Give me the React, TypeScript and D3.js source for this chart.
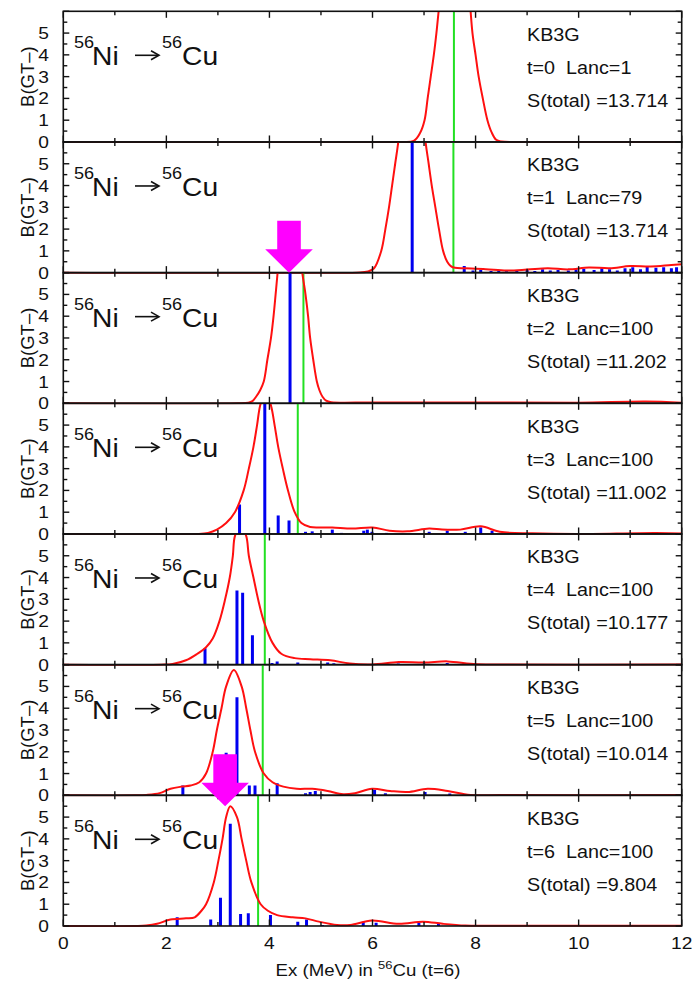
import React from "react";
import * as d3 from "d3";

// ---------- data ----------
const X_TICK_LABELS = [0, 2, 4, 6, 8, 10, 12];
const Y_TICK_LABELS = [0, 1, 2, 3, 4, 5];
const MODEL = "KB3G";
const T_STEPS = [0, 1, 2, 3, 4, 5, 6];
const LANC = [1, 79, 100, 100, 100, 100, 100];
const S_TOTAL = ["13.714", "13.714", "11.202", "11.002", "10.177", "10.014", "9.804"];
const CENTROIDS = [7.58, 7.57, 4.66, 4.55, 3.91, 3.87, 3.78];

const curve0: [number, number][] = [[0,0],[6.5,0],[6.8,0.05],[6.92,0.4],[7.01,1],[7.07,2],[7.13,3],[7.19,4],[7.24,5],[7.3,6.4],[7.45,10],[7.6,11.2],[7.75,10],[7.89,6.4],[7.94,5],[8.0,4],[8.06,3],[8.14,2],[8.23,1],[8.31,0.45],[8.4,0.1],[8.5,0.02],[8.8,0],[12,0]];
const curve1: [number, number][] = [[0,0],[5.7,0],[5.91,0.05],[6.03,0.2],[6.17,1],[6.25,2],[6.32,3],[6.38,4],[6.44,5],[6.51,6.2],[6.62,9.5],[6.77,11],[6.92,9.5],[7.02,6.2],[7.09,5],[7.15,4],[7.22,3],[7.29,2],[7.37,1],[7.45,0.5],[7.52,0.3],[7.6,0.22],[7.8,0.2],[8.2,0.16],[8.6,0.1],[9.0,0.14],[9.4,0.2],[9.8,0.15],[10.2,0.24],[10.6,0.2],[11.0,0.3],[11.4,0.28],[11.8,0.35],[12,0.38]];
const curve2: [number, number][] = [[0,0],[3.4,0],[3.59,0.03],[3.67,0.1],[3.74,0.3],[3.82,0.6],[3.89,1],[3.96,2],[4.03,3],[4.08,4],[4.12,5],[4.17,6.3],[4.28,9],[4.4,10],[4.52,9],[4.62,6.3],[4.7,5],[4.75,4],[4.79,3],[4.85,2],[4.92,1],[4.97,0.6],[5.03,0.3],[5.1,0.12],[5.2,0.05],[6,0.04],[8,0.04],[10,0.03],[11.3,0.08],[12,0.03]];
const curve3: [number, number][] = [[0,0],[2.6,0],[2.81,0.05],[2.98,0.2],[3.16,0.5],[3.33,1],[3.5,2],[3.6,3],[3.69,4],[3.76,5],[3.82,5.9],[3.92,6.6],[4.03,5.9],[4.1,5],[4.17,4],[4.26,3],[4.36,2],[4.49,1],[4.62,0.5],[4.79,0.32],[5.0,0.3],[5.22,0.3],[5.6,0.25],[6.0,0.3],[6.33,0.15],[6.68,0.12],[7.1,0.25],[7.35,0.2],[7.7,0.2],[8.1,0.35],[8.47,0.1],[9.1,0.03],[9.95,0.0],[11.5,0.05],[12,0.02]];
const curve4: [number, number][] = [[0,0],[1.9,0],[2.12,0.03],[2.38,0.2],[2.6,0.5],[2.77,0.8],[2.9,1.2],[3.03,2],[3.14,3],[3.23,4],[3.29,5],[3.33,5.9],[3.44,6.4],[3.55,5.9],[3.6,5],[3.69,4],[3.78,3],[3.89,2],[4.06,1],[4.23,0.5],[4.49,0.3],[4.79,0.25],[5.18,0.2],[5.56,0.05],[6.0,0.01],[6.51,0.12],[7.0,0.1],[7.46,0.15],[7.9,0.04],[8.2,0.01],[12,0.01]];
const curve5: [number, number][] = [[0,0],[1.4,0],[1.61,0.02],[1.87,0.1],[2.08,0.3],[2.3,0.4],[2.47,0.45],[2.64,0.6],[2.77,1],[2.9,2],[2.98,3],[3.07,4],[3.16,5],[3.31,5.75],[3.46,5],[3.55,4],[3.63,3],[3.72,2],[3.89,1],[4.06,0.6],[4.27,0.4],[4.53,0.3],[4.83,0.3],[5.13,0.2],[5.43,0.05],[5.66,0.1],[5.99,0.3],[6.34,0.2],[6.68,0.15],[7.07,0.3],[7.46,0.2],[7.9,0.02],[8.5,0.01],[12,0.01]];
const curve6: [number, number][] = [[0,0],[1.4,0],[1.61,0.02],[1.82,0.1],[2.08,0.3],[2.38,0.35],[2.55,0.4],[2.68,0.7],[2.77,1],[2.92,2],[3.01,3],[3.09,4],[3.16,5],[3.24,5.5],[3.37,5],[3.46,4],[3.55,3],[3.65,2],[3.83,1],[3.97,0.7],[4.15,0.5],[4.45,0.4],[4.7,0.35],[4.96,0.2],[5.31,0.05],[5.57,0.05],[5.99,0.25],[6.51,0.1],[6.98,0.2],[7.36,0.1],[7.8,0.02],[8.3,0.01],[12,0.01]];
const CURVES = [curve0, curve1, curve2, curve3, curve4, curve5, curve6];

const sticks0: [number, number][] = [];
const sticks1: [number, number][] = [[6.77,12.5],[7.78,0.3],[7.95,0.1],[8.1,0.12],[8.3,0.08],[8.45,0.1],[8.6,0.06],[8.8,0.1],[9.0,0.12],[9.15,0.08],[9.3,0.15],[9.45,0.1],[9.6,0.12],[9.8,0.1],[9.95,0.15],[10.1,0.18],[10.3,0.12],[10.45,0.2],[10.6,0.15],[10.75,0.1],[10.9,0.2],[11.05,0.25],[11.2,0.15],[11.33,0.3],[11.5,0.22],[11.65,0.25],[11.8,0.2],[11.9,0.25]];
const sticks2: [number, number][] = [[4.4,10]];
const sticks3: [number, number][] = [[3.42,1.35],[3.91,7.5],[4.17,0.85],[4.38,0.62],[4.7,0.1],[4.83,0.12],[5.22,0.2],[5.4,0.05],[5.83,0.15],[5.9,0.2],[5.99,0.1],[6.27,0.05],[7.1,0.1],[7.45,0.15],[7.8,0.1],[8.1,0.3],[8.32,0.15],[11.4,0.05]];
const sticks4: [number, number][] = [[2.75,0.75],[3.37,3.4],[3.48,3.3],[3.67,1.35],[4.05,0.08],[4.15,0.15],[4.55,0.1],[5.13,0.1],[5.25,0.06],[6.5,0.05],[7.0,0.05],[7.45,0.08]];
const sticks5: [number, number][] = [[2.32,0.45],[3.16,1.95],[3.37,4.5],[3.61,0.45],[3.72,0.45],[4.15,0.55],[4.7,0.1],[4.79,0.15],[4.89,0.2],[5.02,0.05],[6.04,0.25],[6.25,0.1],[7.02,0.15],[7.5,0.08]];
const sticks6: [number, number][] = [[2.21,0.4],[2.86,0.3],[3.05,1.3],[3.24,4.7],[3.44,0.55],[3.59,0.58],[4.02,0.5],[4.55,0.2],[4.72,0.3],[5.03,0.05],[5.82,0.2],[6.07,0.15],[6.9,0.15],[7.28,0.1],[11.4,0.05]];
const STICKS = [sticks0, sticks1, sticks2, sticks3, sticks4, sticks5, sticks6];

// magenta arrows: panel index, x (MeV), y (B) of the tip
const ARROW_PANEL = [2, 6];
const ARROW_X = [4.38, 3.14];
const ARROW_Y = [6, 5.5];

// ---------- layout ----------
const W = 692;
const H = 981;
const LEFT = 63.3;
const RIGHT = 681.7;
const TOP0 = 11.3;
const PH = 130.67;
const SX = 1.13; // horizontal stretch of text glyphs

const x = d3.scaleLinear().domain([0, 12]).range([LEFT, RIGHT]);
const yFor = (i: number) =>
  d3.scaleLinear().domain([0, 6]).range([TOP0 + (i + 1) * PH, TOP0 + i * PH]);

const FONT = "'Liberation Sans', Arial, Helvetica, sans-serif";

function Txt({ x: tx, y: ty, size, anchor = "start", children }: any) {
  return (
    <text
      transform={`translate(${tx},${ty}) scale(${SX},1)`}
      fontSize={size}
      fontFamily={FONT}
      textAnchor={anchor}
      fill="#111"
      style={{ whiteSpace: "pre" }}
    >
      {children}
    </text>
  );
}

function Panel({ i }: { i: number }) {
  const y = yFor(i);
  const top = TOP0 + i * PH;
  const bottom = top + PH;
  const line = d3
    .line<[number, number]>()
    .x((d) => x(d[0]))
    .y((d) => y(d[1]))
    .curve(d3.curveCatmullRom.alpha(0.5));
  const clipId = `clip${i}`;
  const xTicks = d3.range(0, 13, 1);
  const yTicks = d3.range(0, 6.01, 0.5);
  return (
    <g>
      <defs>
        <clipPath id={clipId}>
          <rect x={LEFT} y={top} width={RIGHT - LEFT} height={PH + 1} />
        </clipPath>
      </defs>
      <g clipPath={`url(#${clipId})`}>
        {STICKS[i].map((s, k) => (
          <line
            key={k}
            x1={x(s[0])}
            x2={x(s[0])}
            y1={y(0)}
            y2={y(s[1])}
            stroke="#0000f0"
            strokeWidth={3}
          />
        ))}
        <line
          x1={x(CENTROIDS[i])}
          x2={x(CENTROIDS[i])}
          y1={y(0)}
          y2={y(6)}
          stroke="#22e022"
          strokeWidth={2}
        />
        <path d={line(CURVES[i]) || ""} fill="none" stroke="#ff1010" strokeWidth={2} />
      </g>
      <rect
        x={LEFT}
        y={top}
        width={RIGHT - LEFT}
        height={PH}
        fill="none"
        stroke="#111"
        strokeWidth={1.6}
      />
      {xTicks.map((t) => {
        const len = t % 2 === 0 ? 6.5 : 4;
        return (
          <g key={`xt${t}`} stroke="#111" strokeWidth={1.4}>
            <line x1={x(t)} x2={x(t)} y1={bottom} y2={bottom - len} />
            <line x1={x(t)} x2={x(t)} y1={top} y2={top + len} />
          </g>
        );
      })}
      {yTicks.map((t) => {
        const len = Number.isInteger(t) ? 6 : 4;
        return (
          <g key={`yt${t}`} stroke="#111" strokeWidth={1.4}>
            <line x1={LEFT} x2={LEFT + len} y1={y(t)} y2={y(t)} />
            <line x1={RIGHT} x2={RIGHT - len} y1={y(t)} y2={y(t)} />
          </g>
        );
      })}
      {Y_TICK_LABELS.map((t) => (
        <Txt key={`yl${t}`} x={49} y={y(t) + 6} size={17} anchor="end">
          {String(t)}
        </Txt>
      ))}
      <text
        transform={`translate(27,${top + PH / 2}) rotate(-90)`}
        fontSize={18.5}
        fontFamily={FONT}
        textAnchor="middle"
        dominantBaseline="central"
        fill="#111"
      >
        B(GT–)
      </text>
      {/* reaction label */}
      <Txt x={74} y={top + 37} size={16}>56</Txt>
      <Txt x={92} y={top + 54} size={25}>Ni</Txt>
      <line x1={135} x2={158} y1={top + 44} y2={top + 44} stroke="#111" strokeWidth={1.6} />
      <path
        d={`M${151},${top + 39.5} L${159},${top + 44} L${151},${top + 48.5}`}
        fill="none"
        stroke="#111"
        strokeWidth={1.6}
      />
      <Txt x={162} y={top + 37} size={16}>56</Txt>
      <Txt x={182} y={top + 54} size={25}>Cu</Txt>
      {/* right texts */}
      <Txt x={527} y={top + 29.5} size={17.5}>{MODEL}</Txt>
      <Txt x={527} y={top + 62.5} size={17.5}>{`t=${T_STEPS[i]}  Lanc=${LANC[i]}`}</Txt>
      <Txt x={527} y={top + 95.5} size={17.5}>{`S(total) =${S_TOTAL[i]}`}</Txt>
    </g>
  );
}

function Arrow({ k }: { k: number }) {
  const tx = x(ARROW_X[k]);
  const ty = yFor(ARROW_PANEL[k])(ARROW_Y[k]);
  const hw = 23.8, hh = 23.4, sw = 11.8, total = 52;
  const pts = [
    [tx, ty],
    [tx - hw, ty - hh],
    [tx - sw, ty - hh],
    [tx - sw, ty - total],
    [tx + sw, ty - total],
    [tx + sw, ty - hh],
    [tx + hw, ty - hh],
  ];
  return <polygon points={pts.map((p) => p.join(",")).join(" ")} fill="#ff00ff" />;
}

export default function App() {
  const bottom = TOP0 + 7 * PH;
  return (
    <svg
      width={W}
      height={H}
      viewBox={`0 0 ${W} ${H}`}
      style={{ position: "absolute", left: 0, top: 0, background: "#fff" }}
    >
      <rect width={W} height={H} fill="#fff" />
      {T_STEPS.map((_, i) => (
        <Panel key={i} i={i} />
      ))}
      {ARROW_PANEL.map((_, k) => (
        <Arrow key={k} k={k} />
      ))}
      {X_TICK_LABELS.map((t) => (
        <Txt key={`xl${t}`} x={x(t)} y={bottom + 23.5} size={17} anchor="middle">
          {String(t)}
        </Txt>
      ))}
      <text
        transform={`translate(368,${bottom + 50}) scale(${SX},1)`}
        fontSize={16.5}
        fontFamily={FONT}
        textAnchor="middle"
        fill="#111"
      >
        Ex (MeV) in <tspan dy={-7} fontSize={11.5}>56</tspan>
        <tspan dy={7}>Cu (t=6)</tspan>
      </text>
    </svg>
  );
}
